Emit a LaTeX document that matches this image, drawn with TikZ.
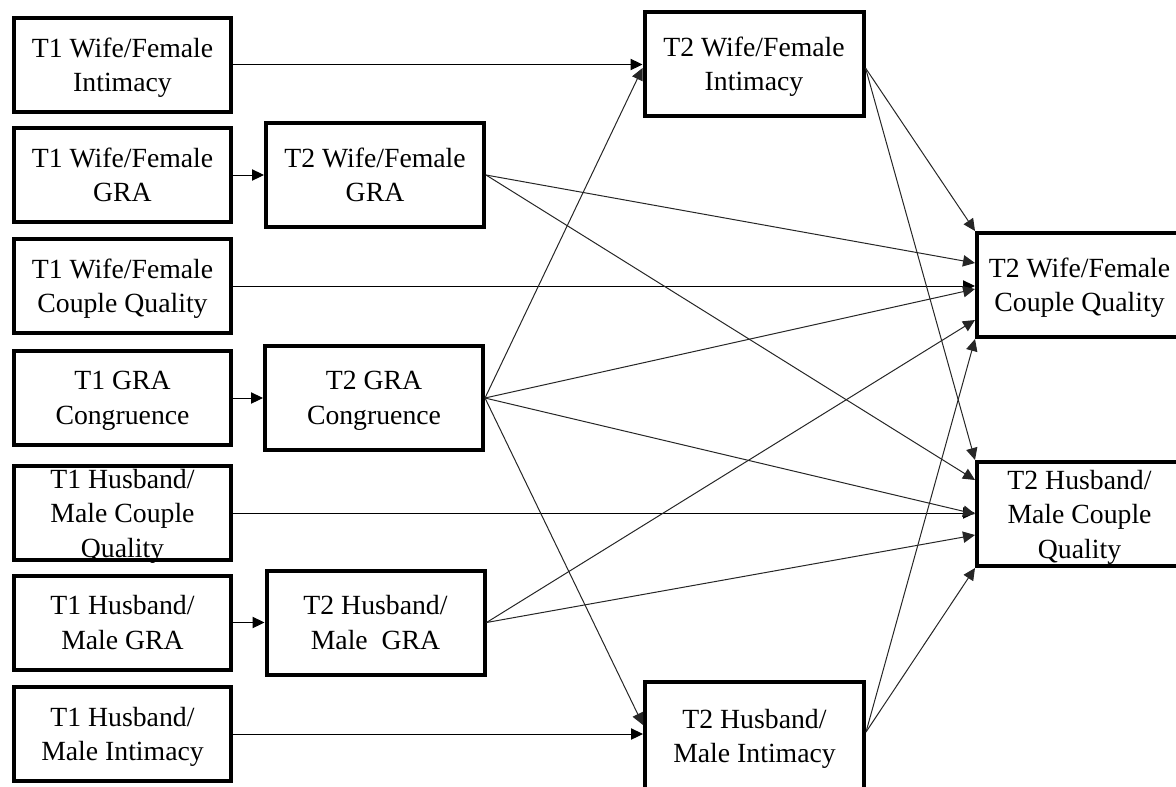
\documentclass[tikz,border=0pt]{standalone}
\usepackage{fontspec}
\setmainfont{Liberation Serif}
\usetikzlibrary{arrows.meta}
\begin{document}
\begin{tikzpicture}[x=0.75pt,y=-0.75pt,
  box/.style={draw, line width=3pt, align=center, inner sep=0pt, text depth=0pt,
    font=\fontsize{20.8}{25.8}\selectfont},
  lbox/.style={box, minimum width=162.75pt, minimum height=70.5pt},
  mbox/.style={box, minimum width=163.5pt, minimum height=78pt},
  rbox/.style={box, minimum width=164.25pt, minimum height=78pt},
  cbox/.style={box, minimum width=153.75pt, minimum height=78pt},
  arr/.style={-{Triangle[length=9pt,width=8.5pt]}, line width=0.75pt},
  darr/.style={arr, draw=black!85},
]
\useasboundingbox (0,0) rectangle (1176,786);
% left column
\node[lbox] (L1) at (122.5,64.5) {T1 Wife/Female\\Intimacy};
\node[lbox] (L2) at (122.5,175) {T1 Wife/Female\\GRA};
\node[lbox] (L3) at (122.5,286) {T1 Wife/Female\\Couple Quality};
\node[lbox] (L4) at (122.5,398) {T1 GRA\\Congruence};
\node[lbox] (L5) at (122.5,513) {T1 Husband/\\Male Couple\\Quality};
\node[lbox] (L6) at (122.5,622.5) {T1 Husband/\\Male GRA};
\node[lbox] (L7) at (122.5,734) {T1 Husband/\\Male Intimacy};
% second column
\node[mbox] (M1) at (375,175) {T2 Wife/Female\\GRA};
\node[mbox] (M2) at (374,398) {T2 GRA\\Congruence};
\node[mbox] (M3) at (375.5,622.5) {T2 Husband/\\Male~~GRA};
% intimacy column
\node[rbox] (R1) at (754,64) {T2 Wife/Female\\Intimacy};
\node[rbox, minimum height=81pt] (R2) at (754.5,736) {T2 Husband/\\Male Intimacy};
% outcome column
\node[cbox] (C1) at (1079.5,285) {T2 Wife/Female\\Couple Quality};
\node[cbox] (C2) at (1079.5,514) {T2 Husband/\\Male Couple\\Quality};
% horizontal paths
\draw[arr] (L1.east) -- (L1.east -| R1.west);
\draw[arr] (L2.east) -- (L2.east -| M1.west);
\draw[arr] (L3.east) -- (L3.east -| C1.west);
\draw[arr] (L4.east) -- (L4.east -| M2.west);
\draw[arr] (L5.east) -- (L5.east -| C2.west);
\draw[arr] (L6.east) -- (L6.east -| M3.west);
\draw[arr] (L7.east) -- (L7.east -| R2.west);
% diagonal paths
\draw[darr] (M1.east) -- ([yshift=16.5pt]C1.west);
\draw[darr] (M1.east) -- ([yshift=25.5pt]C2.west);
\draw[darr] (M2.east) -- ([yshift=-3pt]R1.west);
\draw[darr] (M2.east) -- ([yshift=-3pt]C1.west);
\draw[darr] (M2.east) -- ([yshift=0pt]C2.west);
\draw[darr] (M2.east) -- ([yshift=8.25pt]R2.west);
\draw[darr] (M3.east) -- ([yshift=-26.25pt]C1.west);
\draw[darr] (M3.east) -- ([yshift=-15.75pt]C2.west);
\draw[darr] ([yshift=-3pt]R1.east) -- (C1.north west);
\draw[darr] ([yshift=-3pt]R1.east) -- (C2.north west);
\draw[darr] ([yshift=3pt]R2.east) -- (C1.south west);
\draw[darr] ([yshift=3pt]R2.east) -- (C2.south west);
\end{tikzpicture}
\end{document}
